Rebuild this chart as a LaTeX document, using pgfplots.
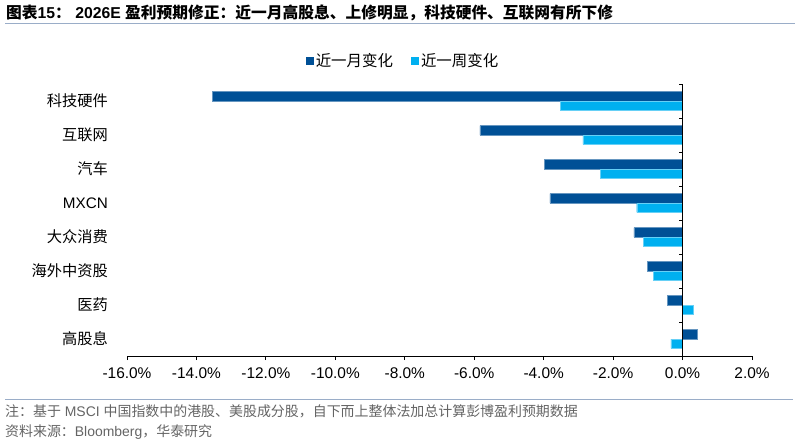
\documentclass[border=0pt]{standalone}
\usepackage{pgfplots}
\pgfplotsset{compat=1.18}
\usepackage{pgfplotstable}
\usepackage{fontspec}
\setmainfont{Liberation Sans}
\newfontfamily\cjk{Noto Sans CJK SC}
\definecolor{monthblue}{RGB}{0,80,150}
\definecolor{weekblue}{RGB}{0,176,240}
\definecolor{rulecol}{RGB}{154,173,200}
\definecolor{notegray}{RGB}{100,100,100}

% EPS revision, %; rows top to bottom
\pgfplotstableread{
pos month week
0 -13.54 -3.51
1 -5.84 -2.87
2 -3.98 -2.37
3 -3.82 -1.32
4 -1.40 -1.13
5 -1.01 -0.85
6 -0.43 0.31
7 0.43 -0.34
}\revtable

\begin{document}
\begin{tikzpicture}[x=1bp,y=1bp]
\path[use as bounding box] (0,0) rectangle (800,-444);

\node[anchor=west,inner sep=0pt] at (6,-13)
  {\fontsize{15.8}{18}\selectfont\bfseries{\cjk 图表}15{\cjk ：} 2026E {\cjk 盈利预期修正：近一月高股息、上修明显，科技硬件、互联网有所下修}};
\draw[rulecol,line width=1.3bp] (5,-23.5) -- (795,-23.5);

\begin{axis}[
    at={(127bp,-356bp)}, anchor=south west,
    scale only axis,
    width=625bp, height=272bp,
    xbar=0pt, bar width=9.4bp,
    xmin=-16, xmax=2,
    ymin=-0.5, ymax=7.5,
    y dir=reverse,
    axis x line*=bottom,
    axis y line*=left,
    y axis line style={draw=none},
    x axis line style={line width=0.9bp},
    xtick={-16,-14,...,2},
    tick align=outside,
    major tick length=4bp,
    xtick style={black,line width=0.9bp},
    ytick={0,...,7},
    ytick style={draw=none},
    yticklabels={{\cjk 科技硬件},{\cjk 互联网},{\cjk 汽车},MXCN,{\cjk 大众消费},{\cjk 海外中资股},{\cjk 医药},{\cjk 高股息}},
    yticklabel style={inner sep=0pt,xshift=-15bp,font=\fontsize{15.3}{18}\selectfont},
    xticklabel={\pgfmathprintnumber[fixed,fixed zerofill,precision=1]{\tick}\%},
    /pgf/number format/assume math mode=true,
    xticklabel style={font=\fontsize{15.5}{18}\selectfont,yshift=-4bp},
    legend columns=2,
    legend style={at={(0.4416,1.085)},anchor=center,draw=none,fill=none,
      font=\fontsize{15.5}{18}\selectfont,
      /tikz/every even column/.append style={column sep=16bp},
      inner sep=0pt},
    legend image code/.code={\fill[#1,draw=none] (0bp,-4bp) rectangle (8bp,4bp);},
    clip=false,
  ]
  \addplot[fill=monthblue,draw=monthblue!60!white,line width=0.4bp,bar shift=4.7bp] table[x=month,y=pos] {\revtable};
  \addlegendentry{\cjk 近一月变化}
  \addplot[fill=weekblue,draw=weekblue!60!white,line width=0.4bp,bar shift=-4.7bp] table[x=week,y=pos] {\revtable};
  \addlegendentry{\cjk 近一周变化}
  \draw[black,line width=0.9bp] (axis cs:0,-0.5) -- (axis cs:0,7.5);
  \pgfplotsinvokeforeach{-0.5,0.5,1.5,2.5,3.5,4.5,5.5,6.5}{
    \draw[black,line width=0.9bp] (axis cs:0,#1) -- ++(-4bp,0pt);
  }
\end{axis}

\draw[rulecol,line width=1.3bp] (5,-399.5) -- (793,-399.5);
\node[anchor=west,inner sep=0pt,text=notegray] at (5,-411)
  {\fontsize{14}{16}\selectfont{\cjk 注：基于} MSCI {\cjk 中国指数中的港股、美股成分股，自下而上整体法加总计算彭博盈利预期数据}};
\node[anchor=west,inner sep=0pt,text=notegray] at (5,-432)
  {\fontsize{14}{16}\selectfont{\cjk 资料来源：}Bloomberg{\cjk ，华泰研究}};
\end{tikzpicture}
\end{document}
